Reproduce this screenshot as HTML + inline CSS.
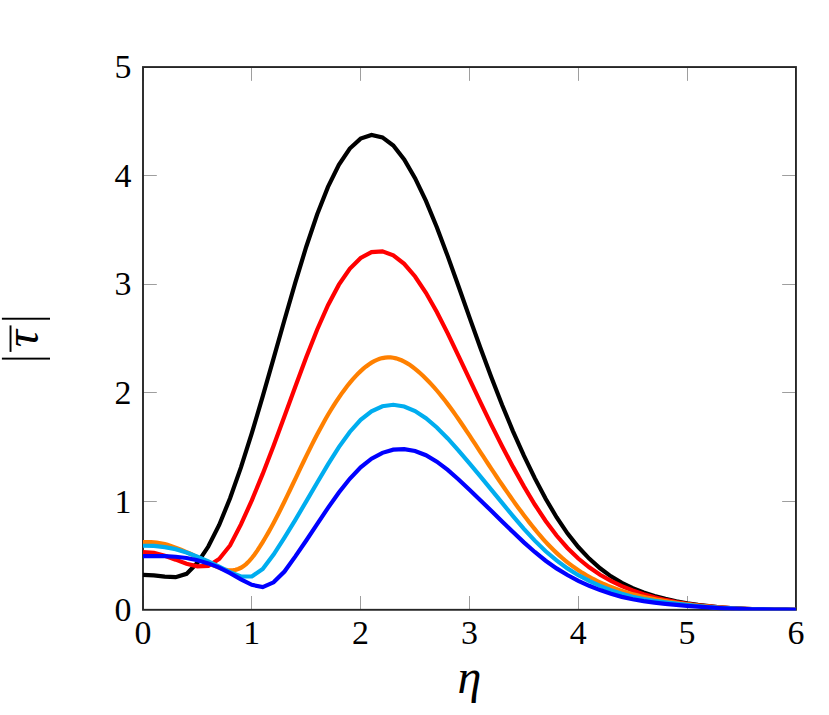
<!DOCTYPE html>
<html><head><meta charset="utf-8"><title>plot</title>
<style>html,body{margin:0;padding:0;width:829px;height:715px;background:#fff;overflow:hidden;font-family:"Liberation Serif",serif}svg{display:block;position:absolute;left:0;top:0}</style></head>
<body>
<svg width="829" height="715" viewBox="0 0 829 715">
<rect width="829" height="715" fill="#fff"/>
<g stroke="#9e9e9e" stroke-width="1" fill="none">
<path d="M143.50 609.80V596.00M143.50 67.05V80.85"/>
<path d="M251.50 609.80V596.00M251.50 67.05V80.85"/>
<path d="M360.50 609.80V596.00M360.50 67.05V80.85"/>
<path d="M469.50 609.80V596.00M469.50 67.05V80.85"/>
<path d="M578.50 609.80V596.00M578.50 67.05V80.85"/>
<path d="M687.50 609.80V596.00M687.50 67.05V80.85"/>
<path d="M795.50 609.80V596.00M795.50 67.05V80.85"/>
<path d="M143.00 609.50H156.80M795.95 609.50H782.15"/>
<path d="M143.00 501.50H156.80M795.95 501.50H782.15"/>
<path d="M143.00 392.50H156.80M795.95 392.50H782.15"/>
<path d="M143.00 284.50H156.80M795.95 284.50H782.15"/>
<path d="M143.00 175.50H156.80M795.95 175.50H782.15"/>
<path d="M143.00 67.50H156.80M795.95 67.50H782.15"/>
</g>
<rect x="143.00" y="67.05" width="652.95" height="542.75" fill="none" stroke="#262626" stroke-width="1.9"/>
<clipPath id="c"><rect x="142.00" y="66.05" width="654.05" height="544.35"/></clipPath>
<g fill="none" stroke-width="4.2" stroke-linejoin="miter" stroke-miterlimit="10" stroke-linecap="butt" clip-path="url(#c)">
<polyline stroke="#000000" points="143.00,574.83 153.88,575.37 164.76,576.62 175.65,577.22 186.53,573.86 197.41,562.80 208.30,546.56 219.18,524.95 230.06,498.29 240.94,467.36 251.82,433.11 262.71,396.45 273.59,358.41 284.47,320.03 295.36,282.39 306.24,246.75 317.12,214.52 328.00,186.90 338.88,164.72 349.77,148.53 360.65,138.63 371.53,134.99 382.42,137.34 393.30,145.57 404.18,159.48 415.06,178.19 425.94,200.95 436.83,227.21 447.71,256.13 458.59,286.54 469.48,317.33 480.36,347.70 491.24,377.09 502.12,405.09 513.01,431.36 523.89,455.71 534.77,478.16 545.65,498.72 556.54,517.20 567.42,533.33 578.30,547.05 589.18,558.61 600.07,568.31 610.95,576.34 621.83,582.89 632.71,588.18 643.60,592.45 654.48,595.96 665.36,598.87 676.24,601.29 687.12,603.27 698.01,604.89 708.89,606.20 719.77,607.26 730.66,608.08 741.54,608.70 752.42,609.12 763.30,609.40 774.19,609.59 785.07,609.72 795.95,609.80"/>
<polyline stroke="#ff0000" points="143.00,552.06 153.88,552.71 164.76,555.86 175.65,559.65 186.53,563.77 197.41,566.27 208.30,565.94 219.18,559.00 230.06,545.45 240.94,524.41 251.82,500.40 262.71,473.91 273.59,445.64 284.47,416.25 295.36,386.49 306.24,357.27 317.12,329.77 328.00,305.23 338.88,284.66 349.77,268.79 360.65,257.95 371.53,252.17 382.42,251.35 393.30,255.29 404.18,263.79 415.06,276.47 425.94,292.77 436.83,311.99 447.71,333.36 458.59,356.05 469.48,379.19 480.36,402.15 491.24,424.57 502.12,446.21 513.01,466.88 523.89,486.39 534.77,504.51 545.65,520.97 556.54,535.51 567.42,548.00 578.30,558.54 589.18,567.34 600.07,574.72 610.95,580.91 621.83,586.12 632.71,590.51 643.60,594.22 654.48,597.33 665.36,599.92 676.24,602.06 687.12,603.82 698.01,605.27 708.89,606.46 719.77,607.43 730.66,608.19 741.54,608.76 752.42,609.15 763.30,609.41 774.19,609.59 785.07,609.72 795.95,609.80"/>
<polyline stroke="#ff8000" points="143.00,541.98 145.72,542.01 148.44,542.08 151.16,542.21 153.88,542.41 156.60,542.69 159.32,543.07 162.04,543.55 164.76,544.15 167.49,544.87 170.21,545.70 172.93,546.63 175.65,547.62 178.37,548.66 181.09,549.75 183.81,550.89 186.53,552.06 189.25,553.27 191.97,554.52 194.69,555.82 197.41,557.16 200.13,558.55 202.85,559.96 205.57,561.39 208.30,562.80 211.02,564.17 213.74,565.47 216.46,566.69 219.18,567.78 221.90,568.73 224.62,569.48 227.34,570.01 230.06,570.28 232.78,570.23 235.50,569.84 238.22,569.03 240.94,567.78 243.66,566.04 246.38,563.83 249.10,561.15 251.82,558.03 254.55,554.49 257.27,550.61 259.99,546.44 262.71,542.06 265.43,537.53 268.15,532.84 270.87,528.00 273.59,523.00 276.31,517.82 279.03,512.50 281.75,507.05 284.47,501.51 287.19,495.89 289.91,490.22 292.63,484.52 295.36,478.80 298.08,473.08 300.80,467.39 303.52,461.73 306.24,456.13 308.96,450.59 311.68,445.14 314.40,439.78 317.12,434.53 319.84,429.40 322.56,424.40 325.28,419.54 328.00,414.82 330.72,410.26 333.44,405.86 336.16,401.62 338.88,397.54 341.61,393.63 344.33,389.89 347.05,386.31 349.77,382.92 352.49,379.69 355.21,376.65 357.93,373.80 360.65,371.15 363.37,368.70 366.09,366.46 368.81,364.45 371.53,362.67 374.25,361.14 376.97,359.86 379.69,358.84 382.42,358.09 385.14,357.61 387.86,357.39 390.58,357.45 393.30,357.78 396.02,358.36 398.74,359.20 401.46,360.28 404.18,361.59 406.90,363.11 409.62,364.83 412.34,366.74 415.06,368.82 417.78,371.06 420.50,373.45 423.22,375.99 425.94,378.65 428.67,381.44 431.39,384.34 434.11,387.36 436.83,390.50 439.55,393.75 442.27,397.11 444.99,400.57 447.71,404.13 450.43,407.79 453.15,411.53 455.87,415.36 458.59,419.26 461.31,423.23 464.03,427.25 466.75,431.32 469.48,435.43 472.20,439.56 474.92,443.72 477.64,447.88 480.36,452.05 483.08,456.21 485.80,460.36 488.52,464.50 491.24,468.62 493.96,472.71 496.68,476.77 499.40,480.80 502.12,484.79 504.84,488.75 507.56,492.67 510.28,496.54 513.01,500.38 515.73,504.17 518.45,507.91 521.17,511.60 523.89,515.24 526.61,518.83 529.33,522.35 532.05,525.81 534.77,529.18 537.49,532.48 540.21,535.68 542.93,538.79 545.65,541.81 548.37,544.72 551.09,547.54 553.81,550.25 556.54,552.86 559.26,555.36 561.98,557.76 564.70,560.07 567.42,562.27 570.14,564.38 572.86,566.40 575.58,568.33 578.30,570.17 581.02,571.94 583.74,573.62 586.46,575.24 589.18,576.78 591.90,578.26 594.62,579.68 597.34,581.03 600.07,582.33 602.79,583.57 605.51,584.76 608.23,585.90 610.95,586.99 613.67,588.03 616.39,589.03 619.11,589.99 621.83,590.90 624.55,591.77 627.27,592.61 629.99,593.40 632.71,594.16 635.43,594.89 638.15,595.58 640.87,596.24 643.60,596.88 646.32,597.48 649.04,598.07 651.76,598.63 654.48,599.17 657.20,599.69 659.92,600.19 662.64,600.67 665.36,601.14 668.08,601.59 670.80,602.03 673.52,602.45 676.24,602.86 678.96,603.25 681.68,603.64 684.40,604.00 687.12,604.36 689.85,604.70 692.57,605.02 695.29,605.34 698.01,605.64 700.73,605.93 703.45,606.20 706.17,606.46 708.89,606.71 711.61,606.95 714.33,607.18 717.05,607.39 719.77,607.60 722.49,607.79 725.21,607.96 727.93,608.13 730.66,608.29 733.38,608.43 736.10,608.56 738.82,608.69 741.54,608.80 744.26,608.90 746.98,608.99 749.70,609.08 752.42,609.15 755.14,609.22 757.86,609.29 760.58,609.34 763.30,609.40 766.02,609.45 768.74,609.50 771.46,609.54 774.19,609.58 776.91,609.62 779.63,609.65 782.35,609.68 785.07,609.71 787.79,609.74 790.51,609.76 793.23,609.78 795.95,609.80"/>
<polyline stroke="#00adef" points="143.00,545.77 153.88,545.88 164.76,547.08 175.65,549.14 186.53,552.50 197.41,556.72 208.30,561.50 219.18,566.59 230.06,572.23 240.94,576.46 251.82,576.51 262.71,569.08 273.59,554.56 284.47,537.53 295.36,519.78 306.24,501.41 317.12,482.73 328.00,464.33 338.88,447.09 349.77,431.97 360.65,419.83 371.53,411.23 382.42,406.27 393.30,404.77 404.18,406.46 415.06,411.04 425.94,418.17 436.83,427.45 447.71,438.43 458.59,450.54 469.48,463.31 480.36,476.42 491.24,489.67 502.12,502.95 513.01,516.11 523.89,528.83 534.77,540.64 545.65,551.23 556.54,560.47 567.42,568.40 578.30,575.16 589.18,580.94 600.07,585.93 610.95,590.23 621.83,593.86 632.71,596.79 643.60,599.05 654.48,600.81 665.36,602.28 676.24,603.62 687.12,604.87 698.01,606.00 708.89,606.99 719.77,607.81 730.66,608.45 741.54,608.92 752.42,609.25 763.30,609.46 774.19,609.61 785.07,609.72 795.95,609.80"/>
<polyline stroke="#0000ff" points="143.00,556.18 153.88,556.07 164.76,556.07 175.65,556.72 186.53,558.03 197.41,560.25 208.30,563.39 219.18,567.62 230.06,573.20 240.94,579.38 251.82,584.86 262.71,587.08 273.59,582.31 284.47,571.58 295.36,556.41 306.24,540.52 317.12,524.16 328.00,507.89 338.88,492.49 349.77,478.79 360.65,467.42 371.53,458.73 382.42,452.85 393.30,449.69 404.18,449.13 415.06,451.03 425.94,455.27 436.83,461.69 447.71,469.93 458.59,479.44 469.48,489.66 480.36,500.16 491.24,510.77 502.12,521.45 513.01,532.09 523.89,542.39 534.77,552.01 545.65,560.71 556.54,568.38 567.42,575.04 578.30,580.80 589.18,585.79 600.07,590.11 610.95,593.80 621.83,596.84 632.71,599.25 643.60,601.12 654.48,602.60 665.36,603.85 676.24,604.93 687.12,605.87 698.01,606.70 708.89,607.43 719.77,608.04 730.66,608.54 741.54,608.94 752.42,609.24 763.30,609.45 774.19,609.61 785.07,609.72 795.95,609.80"/>
</g>
<g fill="#000" font-family="'Liberation Serif', serif" font-size="33.9" text-anchor="middle">
<text x="142.9" y="643.8">0</text>
<text x="251.7" y="643.8">1</text>
<text x="360.5" y="643.8">2</text>
<text x="469.4" y="643.8">3</text>
<text x="578.2" y="643.8">4</text>
<text x="687.0" y="643.8">5</text>
<text x="795.9" y="643.8">6</text>
</g>
<g fill="#000" font-family="'Liberation Serif', serif" font-size="33.9" text-anchor="end">
<text x="131.4" y="621.05">0</text>
<text x="131.4" y="512.50">1</text>
<text x="131.4" y="403.95">2</text>
<text x="131.4" y="295.40">3</text>
<text x="131.4" y="186.85">4</text>
<text x="131.4" y="78.30">5</text>
</g>
<text x="469.5" y="693" fill="#000" font-family="'Liberation Serif', serif" font-size="48" font-style="italic" text-anchor="middle">η</text>
<g fill="#000" transform="translate(37.98 365.30) rotate(-90)">
<rect x="5.72" y="-36.08" width="1.92" height="48.10"/>
<rect x="45.62" y="-36.08" width="1.92" height="48.10"/>
<rect x="13.40" y="-28.41" width="26.50" height="1.92"/>
<text x="26.6" y="0" font-family="'Liberation Serif', serif" font-size="48" font-style="italic" text-anchor="middle">τ</text>
</g>
</svg>
</body></html>
